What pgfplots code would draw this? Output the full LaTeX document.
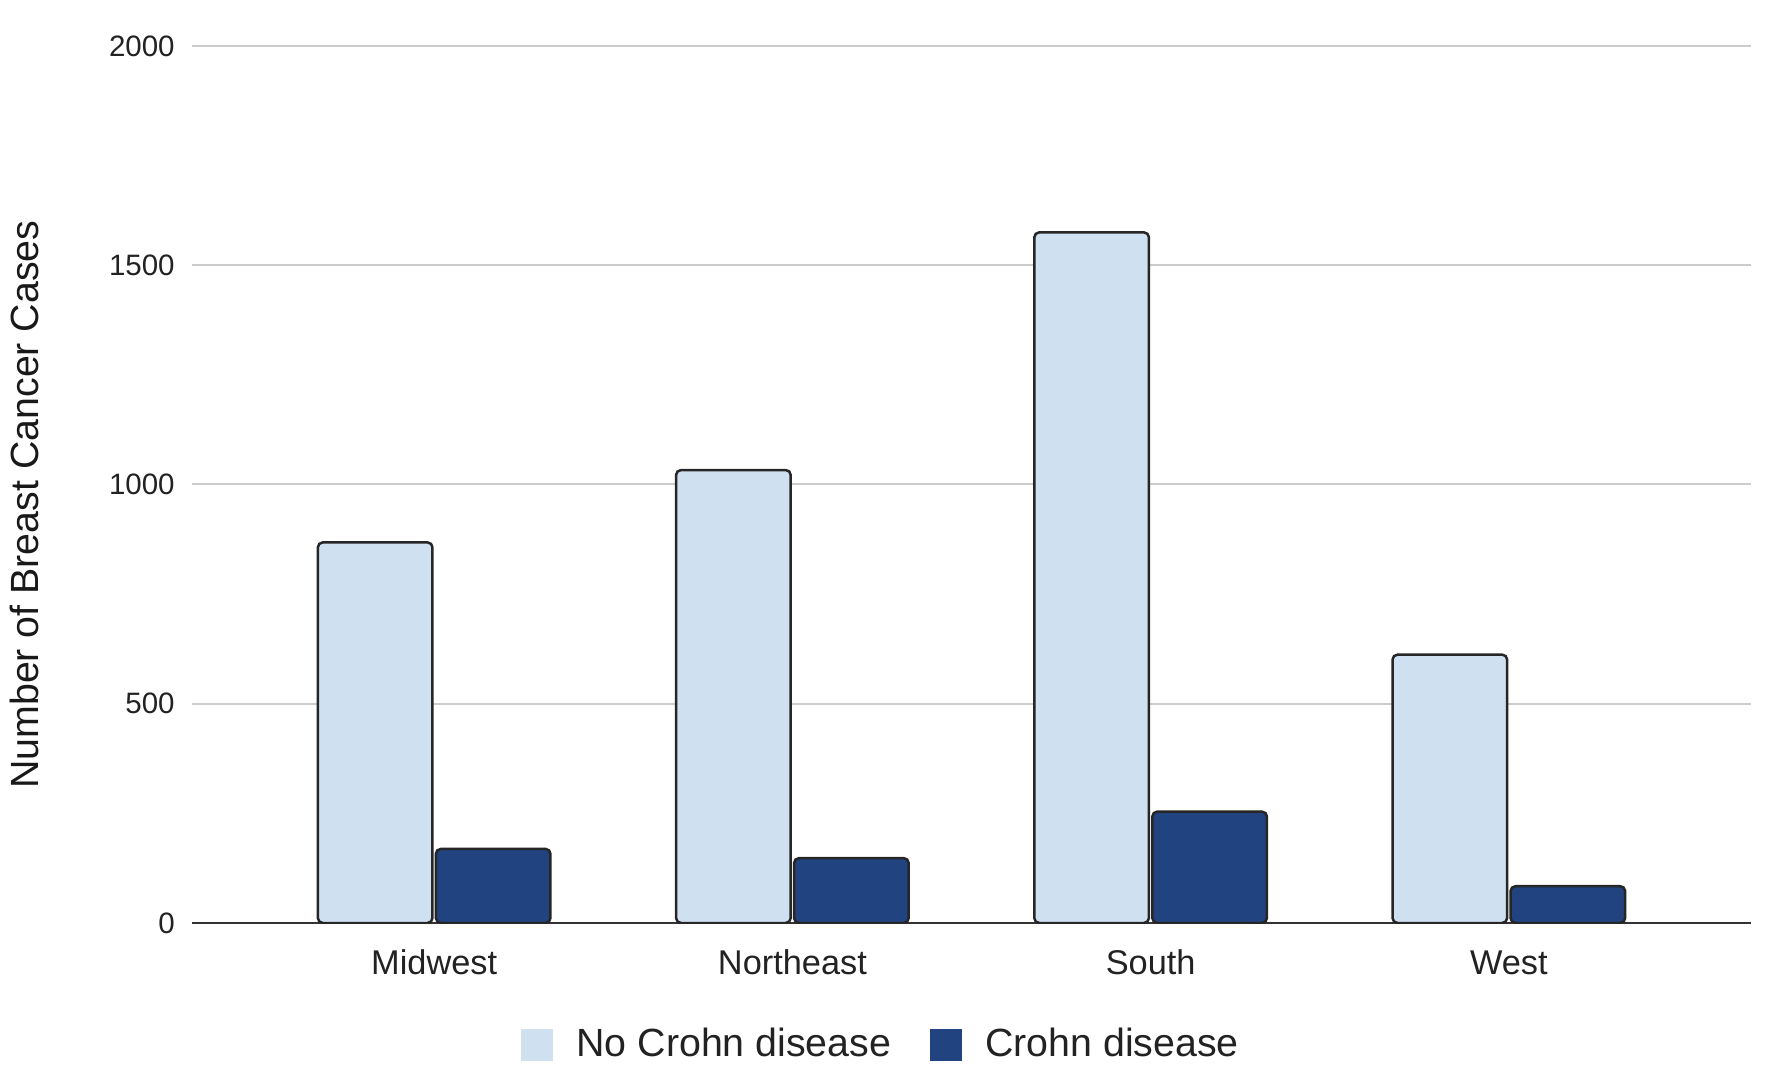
\documentclass[border=0pt]{standalone}
\usepackage{pgfplots}
\pgfplotsset{compat=1.18}
\usepackage{fontspec}
\setmainfont{Liberation Sans}
\definecolor{lightbar}{HTML}{CFE0F1}
\definecolor{darkbar}{HTML}{21437F}
\definecolor{gridgray}{HTML}{CCCCCC}
\definecolor{txt}{HTML}{222222}
\begin{document}
\begin{tikzpicture}
\useasboundingbox (-57.6pt,-46.5pt) rectangle (474pt,276.9pt);
\begin{axis}[
  at={(0,0)}, anchor=south west,
  scale only axis,
  width=467.7pt, height=263.1pt,
  xmin=-0.676, xmax=3.676,
  ymin=0, ymax=2000,
  enlargelimits=false,
  ybar, bar width=34.4pt,
  xtick={0,1,2,3},
  xticklabels={Midwest,Northeast,South,West},
  ytick={0,500,1000,1500,2000},
  major tick length=0pt,
  tick style={draw=none},
  ymajorgrids,
  grid style={gridgray, line width=0.6pt},
  axis y line*=left,
  y axis line style={draw=none},
  axis x line*=bottom,
  x axis line style={-, draw=black!80, line width=0.7pt},
  /pgf/number format/assume math mode=true,
  /pgf/number format/1000 sep={},
  yticklabel style={anchor=east, inner sep=0pt, xshift=-5pt, text=txt, font=\fontsize{8.85}{10}\selectfont},
  xticklabel style={anchor=base, inner sep=0pt, yshift=-15.5pt, text=txt, font=\fontsize{10.3}{12}\selectfont},
  ylabel={Number of Breast Cancer Cases},
  every axis y label/.style={at={(axis description cs:-0.1074,0.477)}, rotate=90, anchor=center, font=\fontsize{11.8}{14}\selectfont, text=black!90},
  legend columns=2,
  legend style={at={(axis description cs:0.4435,-0.139)}, anchor=center, draw=none, fill=none,
    font=\fontsize{11.8}{14}\selectfont, text=txt,
    /tikz/every even column/.append style={column sep=9.6pt}},
  legend image code/.code={\path[#1, draw=none, sharp corners] (0pt,-4.75pt) rectangle (9.5pt,4.75pt); \path (14.2pt,0pt);},
  every axis plot/.append style={draw=black!85, line width=0.75pt, rounded corners=1.5pt},
]
\addplot[fill=lightbar, bar shift=-17.7pt] coordinates {(0,868) (1,1033) (2,1575) (3,612)};
\addplot[fill=darkbar, bar shift=17.7pt] coordinates {(0,169) (1,148) (2,254) (3,84)};
\legend{No Crohn disease, Crohn disease}
\end{axis}
\end{tikzpicture}
\end{document}
